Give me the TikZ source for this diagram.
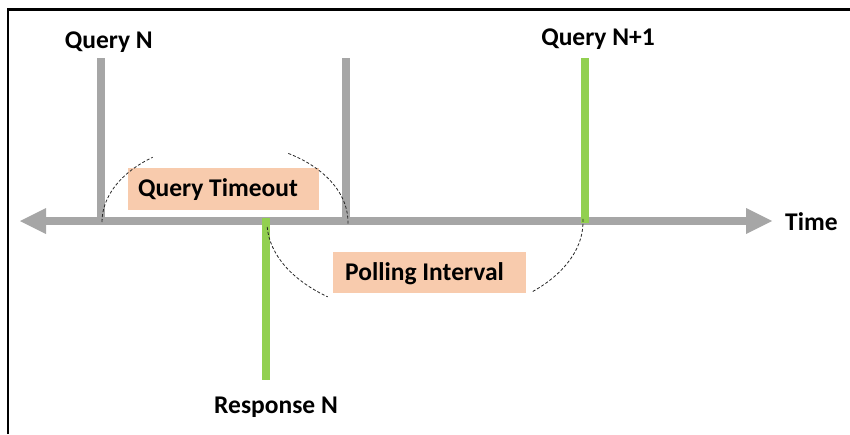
\documentclass[tikz,border=0pt]{standalone}
\usepackage{fontspec}
\setmainfont{Carlito}
\usetikzlibrary{arrows.meta}
\definecolor{axisgray}{HTML}{A6A6A6}
\definecolor{evgreen}{HTML}{92D050}
\definecolor{peach}{HTML}{F8CBAD}
\begin{document}
\begin{tikzpicture}[x=1pt,y=-1pt,
  lbl/.style={font=\fontsize{25.5}{30}\selectfont\bfseries, inner sep=0pt, text=black},
  graybar/.style={draw=axisgray, line width=8pt},
  greenbar/.style={draw=evgreen, line width=8pt},
  band/.style={fill=peach, inner sep=0pt, draw=none},
  arcdash/.style={draw=black!85, line width=0.8pt, dash pattern=on 3pt off 2pt}]
\useasboundingbox (0,0) rectangle (850,434);
% frame
\draw[line width=2.5pt] (8,434) -- (8,9.5) -- (850,9.5);
% boxes
\node[band, minimum width=191pt, minimum height=42pt] (qtbox) at (223.5,189) {};
\node[band, minimum width=193pt, minimum height=41pt] (pibox) at (429.5,272.5) {};
% coordinates
\coordinate (tl) at (20,221);
\coordinate (tr) at (772,221);
\coordinate (qntop) at (101,58);
\coordinate (qnfoot) at (101,221);
\coordinate (totop) at (346,58);
\coordinate (tofoot) at (346,221);
\coordinate (qn1top) at (585,58);
\coordinate (qn1foot) at (585,223);
\coordinate (rtop) at (266,218);
\coordinate (rfoot) at (266,380);
% axis
\draw[graybar, {Triangle[length=26pt, width=26pt, line width=0pt]}-{Triangle[length=26pt, width=26pt, line width=0pt]}] (tl) -- (tr);
% vertical markers
\draw[graybar] (qntop) -- (qnfoot);
\draw[graybar] (totop) -- (tofoot);
\draw[greenbar] (qn1top) -- (qn1foot);
\draw[greenbar] (rtop) -- (rfoot);
% dashed arcs: query timeout
\draw[arcdash, shift={(225,222)}] (180:123 and 80) arc[start angle=180, end angle=234, x radius=123, y radius=80];
\draw[arcdash, shift={(225,222)}] (301:123 and 80) arc[start angle=301, end angle=362, x radius=123, y radius=80];
% dashed arcs: polling interval
\draw[arcdash, shift={(425,222)}] (177:158 and 95) arc[start angle=177, end angle=128, x radius=158, y radius=95];
\draw[arcdash, shift={(425,222)}] (47:158 and 95) arc[start angle=47, end angle=-2, x radius=158, y radius=95];
% labels
\node[lbl, anchor=base] (qnl) at (108.8,48.5) {Query N};
\node[lbl, anchor=base] (qn1l) at (598,45) {Query N+1};
\node[lbl, anchor=base west] (timel) at (785,230) {Time};
\node[lbl, anchor=base] (respl) at (276,413) {Response N};
\node[lbl, anchor=base west] (qtl) at (138,196) {Query Timeout};
\node[lbl, anchor=base west] (pil) at (345,280) {Polling Interval};
\end{tikzpicture}
\end{document}
